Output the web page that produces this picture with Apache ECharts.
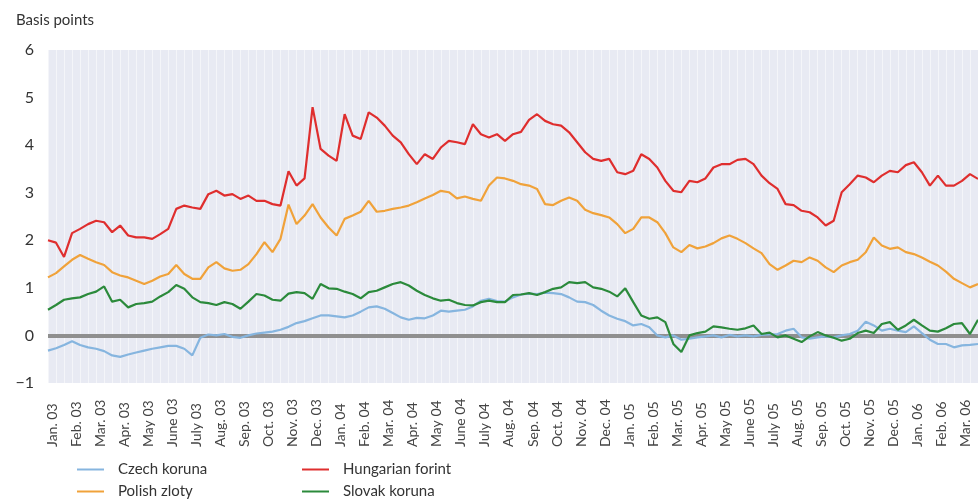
<!DOCTYPE html>
<html>
<head>
<meta charset="utf-8">
<script src="https://cdn.jsdelivr.net/npm/echarts@6/dist/echarts.min.js"></script>
<style>
html,body{margin:0;padding:0;background:#fff;}
#chart{width:978px;height:499px;}
</style>
</head>
<body>
<div id="chart"></div>
<script>
// Month tick labels (one per month, Jan. 03 .. Mar. 06)
const months = ['Jan. 03','Feb. 03','Mar. 03','Apr. 03','May 03','June 03','July 03','Aug. 03','Sep. 03','Oct. 03','Nov. 03','Dec. 03',
  'Jan. 04','Feb. 04','Mar. 04','Apr. 04','May 04','June 04','July 04','Aug. 04','Sep. 04','Oct. 04','Nov. 04','Dec. 04',
  'Jan. 05','Feb. 05','Mar. 05','Apr. 05','May 05','June 05','July 05','Aug. 05','Sep. 05','Oct. 05','Nov. 05','Dec. 05',
  'Jan. 06','Feb. 06','Mar. 06'];
// Observations: three readings per month (start, ~10th, ~20th), ending mid-March 2006
const obsPerMonth = 3;
const nObs = 117;

const czech = [-0.32,-0.27,-0.2,-0.12,-0.2,-0.25,-0.28,-0.33,-0.42,-0.45,-0.4,-0.36,-0.32,-0.28,-0.25,-0.22,-0.22,-0.28,-0.42,-0.05,0.02,0.0,0.03,-0.03,-0.05,0.0,0.04,0.06,0.08,0.12,0.18,
  0.26,0.3,0.36,0.42,0.42,0.4,0.38,0.42,0.5,0.59,0.61,0.56,0.47,0.38,0.33,0.37,0.36,0.42,0.52,0.5,0.52,0.54,0.61,0.73,0.77,0.72,0.71,0.8,0.86,0.88,
  0.87,0.9,0.89,0.87,0.8,0.71,0.7,0.64,0.52,0.42,0.35,0.3,0.21,0.24,0.17,0.0,-0.04,0.0,-0.09,-0.07,-0.04,-0.02,0.0,-0.04,0.01,-0.02,0.0,-0.02,0.01,0.02,
  0.03,0.1,0.14,-0.04,-0.07,-0.04,-0.02,-0.04,0.0,0.03,0.1,0.29,0.21,0.1,0.14,0.1,0.07,0.19,0.05,-0.09,-0.18,-0.18,-0.25,-0.21,-0.2,-0.18];

const polish = [1.22,1.31,1.45,1.59,1.69,1.61,1.54,1.48,1.33,1.26,1.22,1.15,1.08,1.15,1.24,1.29,1.48,1.29,1.19,1.19,1.43,1.54,1.41,1.36,1.38,1.5,1.71,1.96,1.75,2.03,2.75,
  2.34,2.52,2.76,2.48,2.27,2.1,2.45,2.52,2.6,2.83,2.6,2.62,2.66,2.69,2.73,2.8,2.88,2.95,3.04,3.01,2.88,2.92,2.87,2.83,3.15,3.32,3.3,3.25,3.18,3.15,
  3.08,2.76,2.74,2.83,2.9,2.83,2.64,2.57,2.53,2.48,2.34,2.15,2.24,2.48,2.48,2.38,2.15,1.85,1.75,1.9,1.83,1.87,1.94,2.04,2.1,2.03,1.94,1.83,1.73,1.5,
  1.38,1.47,1.57,1.54,1.64,1.57,1.43,1.33,1.47,1.54,1.59,1.75,2.06,1.89,1.82,1.85,1.75,1.71,1.64,1.55,1.47,1.34,1.19,1.1,1.01,1.08];

const hungarian = [2.0,1.95,1.65,2.15,2.24,2.34,2.41,2.38,2.17,2.31,2.1,2.06,2.06,2.03,2.13,2.24,2.66,2.73,2.69,2.66,2.97,3.04,2.94,2.97,2.87,2.94,2.83,2.83,2.76,2.73,3.45,
  3.15,3.3,4.8,3.92,3.78,3.67,4.65,4.2,4.13,4.69,4.58,4.41,4.2,4.06,3.81,3.6,3.81,3.71,3.95,4.09,4.06,4.02,4.44,4.23,4.16,4.23,4.09,4.23,4.28,4.53,
  4.65,4.51,4.44,4.41,4.27,4.06,3.85,3.71,3.67,3.71,3.43,3.39,3.46,3.81,3.71,3.53,3.25,3.04,3.01,3.25,3.22,3.3,3.53,3.6,3.6,3.69,3.71,3.6,3.36,3.2,
  3.08,2.76,2.74,2.62,2.59,2.48,2.31,2.41,3.01,3.18,3.36,3.32,3.22,3.36,3.46,3.43,3.58,3.64,3.43,3.15,3.36,3.15,3.15,3.25,3.39,3.29];

const slovak = [0.54,0.64,0.75,0.78,0.8,0.87,0.92,1.03,0.71,0.75,0.59,0.66,0.68,0.71,0.82,0.91,1.06,0.98,0.8,0.7,0.68,0.64,0.7,0.66,0.56,0.71,0.87,0.84,0.75,0.73,0.88,
  0.91,0.89,0.77,1.08,0.99,0.98,0.92,0.87,0.78,0.91,0.94,1.01,1.08,1.12,1.05,0.94,0.85,0.78,0.73,0.75,0.68,0.64,0.63,0.7,0.73,0.7,0.7,0.85,0.86,0.89,
  0.85,0.91,0.98,1.01,1.12,1.1,1.12,1.01,0.98,0.92,0.82,0.99,0.7,0.42,0.35,0.38,0.28,-0.18,-0.35,0.0,0.05,0.08,0.19,0.17,0.14,0.12,0.15,0.21,0.03,0.06,
  -0.04,0.0,-0.07,-0.14,-0.02,0.07,0.0,-0.05,-0.11,-0.07,0.05,0.1,0.05,0.24,0.28,0.12,0.21,0.33,0.21,0.1,0.08,0.15,0.24,0.26,0.03,0.33];

const yTicks = [-1,0,1,2,3,4,5,6];

const seriesNames = ['Czech koruna','Polish zloty','Hungarian forint','Slovak koruna'];
const seriesColors = ['#86b5df','#f0a23a','#df2e2e','#2b8a3b'];
const seriesData = [czech, polish, hungarian, slovak];

const cats = [];
for (let i = 0; i < nObs; i++) cats.push(months[Math.floor(i / obsPerMonth)] + '|' + (i % obsPerMonth));

const FONT = 'Lato, "Open Sans", sans-serif';

const chart = echarts.init(document.getElementById('chart'), null, {renderer: 'canvas'});
const legendPos = [
  {name: 'Czech koruna', left: 72, top: 457},
  {name: 'Hungarian forint', left: 297, top: 457},
  {name: 'Polish zloty', left: 72, top: 479},
  {name: 'Slovak koruna', left: 297, top: 479}
];
chart.setOption({
  animation: false,
  backgroundColor: '#ffffff',
  title: {
    text: 'Basis points', left: 11, top: 8,
    textStyle: {fontFamily: FONT, fontSize: 15, fontWeight: 'normal', color: '#333'}
  },
  legend: legendPos.map(p => ({
    data: [{name: p.name, icon: 'rect'}],
    left: p.left, top: p.top, orient: 'horizontal',
    itemWidth: 27, itemHeight: 2, selectedMode: false,
    textStyle: {fontFamily: FONT, fontSize: 15, color: '#333', padding: [0, 0, 0, 9]}
  })),
  grid: {left: 48, right: 0, top: 50, bottom: 116, show: true, backgroundColor: '#e8eaf3', borderWidth: 0},
  xAxis: {
    type: 'category', data: cats, boundaryGap: false,
    axisLine: {show: false}, axisTick: {show: false},
    axisLabel: {
      interval: (idx) => idx % obsPerMonth === 0,
      formatter: (v) => v.split('|')[0],
      rotate: 90, align: 'left', verticalAlign: 'top', lineHeight: 8, margin: 64,
      fontFamily: FONT, fontSize: 14, color: '#444'
    },
    splitLine: {show: true, interval: 0, lineStyle: {color: 'rgba(255,255,255,0.5)', width: 1}}
  },
  yAxis: {
    type: 'value', min: -1, max: 6, interval: 1,
    axisLine: {show: false}, axisTick: {show: false}, splitLine: {show: false},
    axisLabel: {
      margin: 14, fontFamily: FONT, fontSize: 16, color: '#333',
      formatter: (v) => yTicks.includes(v) ? (v < 0 ? '\u2212' + Math.abs(v) : String(v)) : ''
    }
  },
  series: seriesNames.map((n, k) => ({
    name: n, type: 'line', data: seriesData[k], showSymbol: false, symbol: 'none',
    color: seriesColors[k],
    lineStyle: {width: 2.2, color: seriesColors[k]},
    z: 3 + k,
    markLine: k === 0 ? {
      silent: true, symbol: 'none', label: {show: false},
      lineStyle: {color: '#8f8f8f', width: 4, type: 'solid'},
      data: [{yAxis: 0}], z: 2
    } : undefined
  }))
});
</script>
</body>
</html>
